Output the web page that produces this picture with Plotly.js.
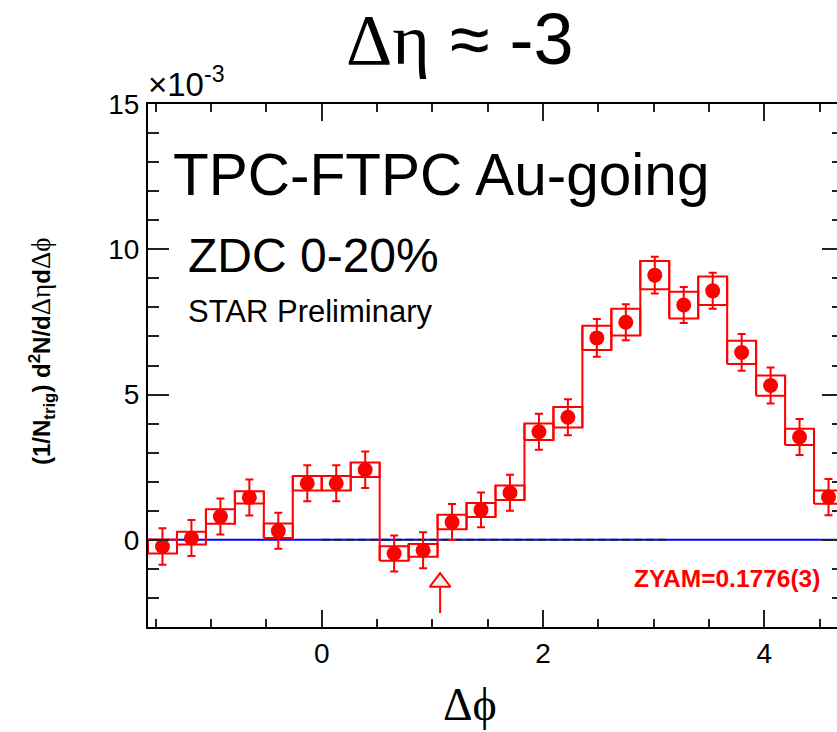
<!DOCTYPE html>
<html>
<head>
<meta charset="utf-8">
<script src="https://cdn.plot.ly/plotly-3.0.1.min.js"></script>
<style>
  html, body { margin: 0; padding: 0; overflow: hidden; background: #fff; }
  #chart { width: 850px; height: 732px; }
</style>
</head>
<body>
<div id="chart"></div>
<script>
// Azimuthal correlation, Δη ≈ -3, ZDC 0-20%, values in units of 1e-3
const nBins = 24;
const phiMin = -Math.PI / 2;
const phiMax = 3 * Math.PI / 2;

const yieldVals = [-0.23, 0.06, 0.80, 1.46, 0.31, 1.95, 1.95, 2.41, -0.47, -0.36, 0.61, 1.03,
                   1.62, 3.72, 4.22, 6.95, 7.49, 9.11, 8.08, 8.57, 6.45, 5.31, 3.54, 1.47];
const statErr   = [0.63, 0.62, 0.62, 0.62, 0.62, 0.62, 0.62, 0.63, 0.62, 0.62, 0.62, 0.60,
                   0.62, 0.62, 0.62, 0.65, 0.62, 0.63, 0.62, 0.62, 0.63, 0.62, 0.62, 0.62];
const sysErr    = [0.24, 0.22, 0.25, 0.21, 0.25, 0.25, 0.25, 0.25, 0.25, 0.22, 0.25, 0.24,
                   0.25, 0.28, 0.35, 0.42, 0.46, 0.49, 0.46, 0.49, 0.40, 0.35, 0.28, 0.23];

const xTickVals = [0, 2, 4];
const yTickVals = [0, 5, 10, 15];
const arrowX = 1.07;
const arrowHeadY = -1.46;
const arrowBaseY = -1.64;
const arrowTailY = -2.52;
const zyamText = 'ZYAM=0.1776(3)';

const binW = (phiMax - phiMin) / nBins;
const centers = yieldVals.map((_, i) => phiMin + (i + 0.5) * binW);

// systematic boxes, joined at the bin edges like a step outline
const bx = [], by = [];
for (let i = 0; i < nBins; i++) {
  const x0 = phiMin + i * binW, x1 = x0 + binW;
  const lo = yieldVals[i] - sysErr[i], hi = yieldVals[i] + sysErr[i];
  bx.push(x0, x1, x1, x0, x0, null);
  by.push(lo, lo, hi, hi, lo, null);
  if (i < nBins - 1) {
    const lo2 = yieldVals[i + 1] - sysErr[i + 1], hi2 = yieldVals[i + 1] + sysErr[i + 1];
    bx.push(x1, x1, null);
    by.push(Math.min(lo, lo2), Math.max(hi, hi2), null);
  }
}

const red = '#ff0000';
const traces = [
  { x: [phiMin, phiMax], y: [0, 0], mode: 'lines', line: { color: '#0000ff', width: 2 }, hoverinfo: 'skip' },
  { x: [0, Math.PI], y: [0, 0], mode: 'lines', line: { color: '#222', width: 2, dash: '8px,4px' }, hoverinfo: 'skip' },
  { x: bx, y: by, mode: 'lines', line: { color: red, width: 2 }, connectgaps: false, hoverinfo: 'skip' },
  { x: centers, y: yieldVals, mode: 'markers', marker: { color: red, size: 15 },
    error_y: { type: 'data', array: statErr, color: red, thickness: 2, width: 4 } },
  { x: [arrowX, arrowX], y: [arrowTailY, arrowBaseY], mode: 'lines', line: { color: red, width: 2 }, hoverinfo: 'skip' },
  { x: [arrowX], y: [arrowHeadY], mode: 'markers',
    marker: { symbol: 'triangle-up', size: 18, color: '#eeeeee', line: { color: red, width: 2 } } }
];

const W = 850, H = 732, L = 148, R = 7, T = 104, B = 105;
const PW = W - L - R, PH = H - T - B;
const px = v => (v - L) / PW;
const py = v => (H - B - v) / PH;
const sans = 'Liberation Sans, Arial, sans-serif';
const serif = 'Liberation Serif, Times New Roman, serif';

const axisCommon = {
  showgrid: false, zeroline: false, showline: true, linecolor: '#000', linewidth: 2,
  mirror: 'ticks', ticks: 'inside', tickcolor: '#222', tickwidth: 2,
  tickfont: { family: sans, size: 28, color: '#000' }, tickmode: 'array'
};

const layout = {
  width: W, height: H, margin: { l: L, r: R, t: T, b: B },
  paper_bgcolor: '#fff', plot_bgcolor: '#fff', showlegend: false,
  xaxis: Object.assign({}, axisCommon, {
    range: [phiMin, phiMax], tickvals: xTickVals, ticktext: xTickVals.map(String), ticklen: 17,
    minor: { tickmode: 'linear', tick0: 0, dtick: 0.5, ticks: 'inside', ticklen: 8, tickwidth: 2, tickcolor: '#222' }
  }),
  yaxis: Object.assign({}, axisCommon, {
    range: [-3, 15], tickvals: yTickVals, ticktext: yTickVals.map(String), ticklen: 21,
    ticklabelstandoff: 1,
    minor: { tickmode: 'linear', tick0: 0, dtick: 1, ticks: 'inside', ticklen: 11, tickwidth: 2, tickcolor: '#222' }
  }),
  annotations: [
    { text: '<span style="font-family:' + serif + '">Δη</span> ≈ -3', x: px(460), y: py(40),
      xref: 'paper', yref: 'paper', xanchor: 'center', yanchor: 'middle', showarrow: false,
      font: { family: sans, size: 72, color: '#000' } },
    { text: 'TPC-FTPC Au-going', x: px(171), y: py(174), xref: 'paper', yref: 'paper',
      xanchor: 'left', yanchor: 'middle', showarrow: false, font: { family: sans, size: 58.5, color: '#000' } },
    { text: 'ZDC 0-20%', x: px(186), y: py(256), xref: 'paper', yref: 'paper',
      xanchor: 'left', yanchor: 'middle', showarrow: false, font: { family: sans, size: 48, color: '#000' } },
    { text: 'STAR Preliminary', x: px(186), y: py(311), xref: 'paper', yref: 'paper',
      xanchor: 'left', yanchor: 'middle', showarrow: false, font: { family: sans, size: 31, color: '#000' } },
    { text: '<b>' + zyamText + '</b>', x: px(632), y: py(578), xref: 'paper', yref: 'paper',
      xanchor: 'left', yanchor: 'middle', showarrow: false, font: { family: sans, size: 24.5, color: red } },
    { text: '×10<sup>-3</sup>', x: px(146), y: py(105), xref: 'paper', yref: 'paper',
      xanchor: 'left', yanchor: 'bottom', showarrow: false, font: { family: sans, size: 33, color: '#000' } },
    { text: '<b>(1/N<sub>trig</sub>) d<sup>2</sup>N/d</b><span style="font-family:' + serif + ';font-size:27px">Δη</span><b>d</b><span style="font-family:' + serif + ';font-size:27px">Δϕ</span>',
      x: px(42), y: py(352), xref: 'paper', yref: 'paper', textangle: -90,
      xanchor: 'center', yanchor: 'middle', showarrow: false, font: { family: sans, size: 24, color: '#000' } },
    { text: 'Δϕ', x: px(470), y: py(704), xref: 'paper', yref: 'paper',
      xanchor: 'center', yanchor: 'middle', showarrow: false, font: { family: serif, size: 46, color: '#000' } }
  ]
};

Plotly.newPlot('chart', traces, layout, { staticPlot: true, displayModeBar: false });
</script>
</body>
</html>
